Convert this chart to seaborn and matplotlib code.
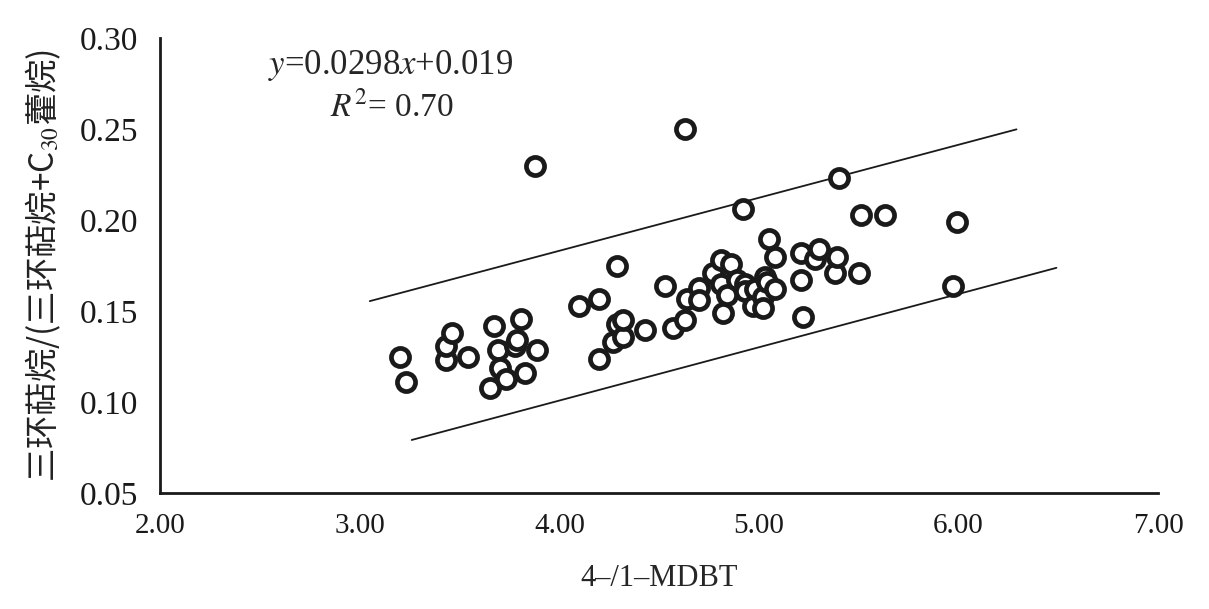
import numpy as np
import pandas as pd
import matplotlib
matplotlib.use("Agg")
import matplotlib.pyplot as plt
import seaborn as sns

# 4-/1-MDBT vs 三环萜烷/(三环萜烷+C30藿烷)
mdbt = [3.20, 3.23, 3.43, 3.43, 3.46, 3.54, 3.65, 3.67, 3.69, 3.70,
        3.73, 3.78, 3.79, 3.81, 3.83, 3.89, 3.88, 4.10, 4.20, 4.20,
        4.29, 4.27, 4.29, 4.32, 4.32, 4.43, 4.53, 4.57, 4.63, 4.63,
        4.64, 4.70, 4.70, 4.77, 4.81, 4.81, 4.82, 4.84, 4.86, 4.89,
        4.92, 4.93, 4.93, 4.97, 4.98, 5.02, 5.02, 5.03, 5.04, 5.05,
        5.08, 5.08, 5.21, 5.21, 5.22, 5.28, 5.30, 5.38, 5.39, 5.40,
        5.50, 5.51, 5.63, 5.97, 5.99]
ratio = [0.125, 0.111, 0.123, 0.131, 0.138, 0.125, 0.108, 0.142, 0.129, 0.119,
         0.113, 0.131, 0.134, 0.146, 0.116, 0.129, 0.230, 0.153, 0.157, 0.124,
         0.175, 0.133, 0.143, 0.136, 0.145, 0.140, 0.164, 0.141, 0.250, 0.145,
         0.157, 0.163, 0.156, 0.171, 0.178, 0.165, 0.149, 0.159, 0.176, 0.167,
         0.206, 0.165, 0.161, 0.153, 0.162, 0.158, 0.152, 0.169, 0.166, 0.190,
         0.180, 0.162, 0.182, 0.167, 0.147, 0.179, 0.184, 0.171, 0.180, 0.223,
         0.171, 0.203, 0.203, 0.164, 0.199]

# 上下包络线端点
upper_x = [3.05, 6.29]
upper_y = [0.1556, 0.250]
lower_x = [3.26, 6.49]
lower_y = [0.0793, 0.1739]

xticks = [2.0, 3.0, 4.0, 5.0, 6.0, 7.0]
yticks = [0.05, 0.10, 0.15, 0.20, 0.25, 0.30]

sns.set_theme(style="white")
plt.rcParams.update({"font.family": ["Liberation Serif", "Noto Sans CJK SC"],
                     "mathtext.fontset": "stix", "axes.unicode_minus": False})

df = pd.DataFrame({"x": mdbt, "y": ratio})
fig = plt.figure(figsize=(12.09, 6.09), dpi=100)
ax = fig.add_axes([0.1325, 0.19, 0.8255, 0.747])

sns.scatterplot(data=df, x="x", y="y", ax=ax, s=170, facecolor="white",
                edgecolor="#1a1a1a", linewidth=3.4, zorder=3)
ax.plot(upper_x, upper_y, color="#1a1a1a", lw=1.3)
ax.plot(lower_x, lower_y, color="#1a1a1a", lw=1.3)

ax.set_xlim(2.0, 7.0)
ax.set_ylim(0.05, 0.30)
ax.set_xticks(xticks)
ax.set_xticklabels([f"{v:.2f}" for v in xticks], fontsize=21)
ax.set_yticks(yticks)
ax.set_yticklabels([f"{v:.2f}" for v in yticks], fontsize=24)
ax.tick_params(direction="in", length=10, width=1.5, colors="#1a1a1a")
ax.tick_params(axis="y", pad=16)
ax.tick_params(axis="x", pad=14)
for side in ("top", "right"):
    ax.spines[side].set_visible(False)
for side in ("left", "bottom"):
    ax.spines[side].set_color("#1a1a1a")
    ax.spines[side].set_linewidth(2.0)

ax.set_xlabel("4\u2013/1\u2013MDBT", fontsize=22, labelpad=18)
ax.set_ylabel("三环萜烷/(三环萜烷+C$_{30}$藿烷)", fontsize=24, labelpad=12,
              family="Noto Sans CJK SC", color="#222222")

ax.text(2.54, 0.285, r"$y$=0.0298$x$+0.019", fontsize=25, va="center", ha="left")
ax.text(2.85, 0.262, r"$R^{2}$= 0.70", fontsize=24, va="center", ha="left")

fig.savefig("out.png", dpi=100)
